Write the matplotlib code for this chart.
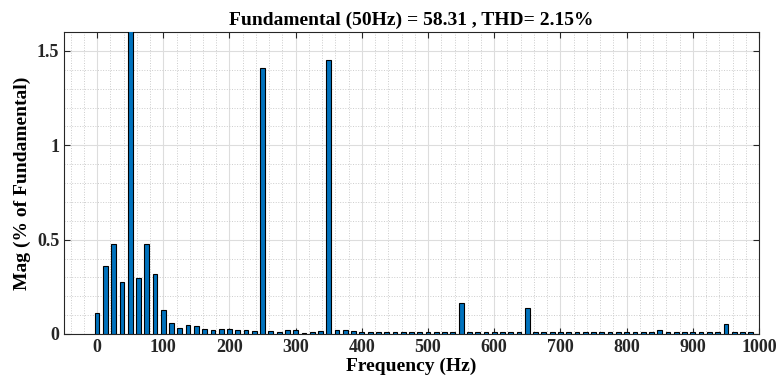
import matplotlib
matplotlib.use('Agg')
import matplotlib.pyplot as plt
import numpy as np
from matplotlib.ticker import MultipleLocator

# harmonic spectrum, 12.5 Hz resolution, 0 .. 987.5 Hz
freq = np.arange(80) * 12.5
mag = [0.113, 0.362, 0.475, 0.274, 100.0, 0.295, 0.479, 0.320,
       0.129, 0.060, 0.032, 0.048, 0.042, 0.025, 0.019, 0.025,
       0.025, 0.021, 0.021, 0.016, 1.410, 0.016, 0.009, 0.019,
       0.019, 0.007, 0.009, 0.016, 1.452, 0.023, 0.023, 0.016,
       0.010, 0.009, 0.009, 0.009, 0.009, 0.009, 0.009, 0.009,
       0.009, 0.009, 0.010, 0.009, 0.163, 0.009, 0.009, 0.009,
       0.010, 0.009, 0.009, 0.009, 0.136, 0.008, 0.009, 0.009,
       0.010, 0.009, 0.009, 0.009, 0.009, 0.009, 0.009, 0.009,
       0.010, 0.009, 0.009, 0.009, 0.023, 0.009, 0.009, 0.009,
       0.010, 0.009, 0.009, 0.009, 0.053, 0.009, 0.009, 0.009]
xticks = np.arange(0, 1001, 100)
yticks = [0, 0.5, 1, 1.5]
ytick_labels = ['0', '0.5', '1', '1.5']
title = 'Fundamental (50Hz) = 58.31 , THD= 2.15%'

plt.rcParams['font.family'] = ['Liberation Serif', 'DejaVu Serif']
plt.rcParams['font.weight'] = 'bold'

fig = plt.figure(figsize=(7.77, 3.8), dpi=100)
ax = fig.add_axes([64/777, 1 - 334/380, (759-64)/777, (334-32)/380])

ax.bar(freq, mag, width=7.2, color='#0072BD', edgecolor='black', linewidth=0.8, zorder=3)

ax.set_xlim(-50, 1000)
ax.set_ylim(0, 1.6)
ax.set_xticks(xticks)
ax.set_yticks(yticks)
ax.set_yticklabels(ytick_labels)
ax.xaxis.set_minor_locator(MultipleLocator(20))
ax.yaxis.set_minor_locator(MultipleLocator(0.1))
ax.grid(which='major', color='#dddddd', linestyle='-', linewidth=0.8, zorder=0)
ax.grid(which='minor', color='#cccccc', linestyle=':', linewidth=0.7, zorder=0)
ax.tick_params(which='major', direction='in', top=True, right=True, length=4,
               labelsize=13, colors='#262626', width=0.8)
ax.tick_params(which='minor', length=0)
for s in ax.spines.values():
    s.set_color('#262626')
    s.set_linewidth(0.8)
for lbl in ax.get_xticklabels() + ax.get_yticklabels():
    lbl.set_fontweight('bold')

ax.set_title(title, fontsize=14, fontweight='bold', pad=5)
ax.set_xlabel('Frequency (Hz)', fontsize=14, fontweight='bold', labelpad=1)
ax.set_ylabel('Mag (% of Fundamental)', fontsize=14, fontweight='bold', labelpad=4)

fig.savefig('out.png', dpi=100)
